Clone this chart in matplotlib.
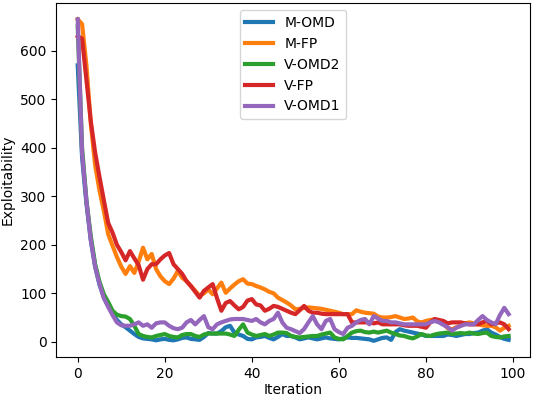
import matplotlib
matplotlib.use("Agg")
import matplotlib.pyplot as plt
import numpy as np

# exploitability per iteration
m_omd = [570, 380, 285, 210, 155, 118, 92, 74, 58, 45, 36, 30, 23, 16, 10, 7, 6, 5, 3, 5,
         6, 4, 3, 5, 8, 9, 6, 5, 4, 10, 18, 17, 17, 22, 30, 33, 19, 15, 12, 6,
         5, 9, 10, 12, 8, 5, 10, 16, 12, 12, 9, 5, 7, 9, 7, 5, 7, 9, 7, 6,
         5, 7, 9, 8, 8, 7, 6, 5, 2, 5, 8, 9, 4, 20, 26, 23, 21, 19, 17, 15,
         12, 12, 12, 12, 12, 15, 14, 12, 14, 16, 16, 18, 19, 23, 26, 19, 15, 10, 6, 4]
m_fp = [665, 655, 570, 450, 365, 312, 270, 222, 198, 175, 155, 140, 156, 142, 165, 194, 170, 181, 150, 135,
        125, 119, 130, 146, 132, 125, 115, 105, 95, 100, 108, 98, 110, 122, 101, 110, 118, 125, 129, 120,
        119, 115, 112, 108, 103, 100, 91, 86, 81, 75, 67, 68, 70, 71, 70, 69, 68, 66, 64, 62,
        60, 57, 57, 57, 65, 62, 60, 59, 58, 52, 50, 50, 51, 53, 50, 47, 48, 50, 42, 40,
        43, 45, 46, 43, 38, 28, 26, 30, 33, 38, 40, 38, 36, 34, 33, 33, 30, 23, 29, 33]
v_omd2 = [650, 400, 292, 218, 160, 124, 98, 82, 64, 56, 53, 52, 47, 33, 16, 12, 10, 9, 12, 14,
          16, 12, 10, 9, 14, 16, 16, 12, 10, 15, 17, 17, 17, 17, 17, 15, 12, 25, 36, 19,
          15, 12, 14, 16, 12, 15, 19, 19, 18, 12, 10, 9, 10, 11, 12, 12, 15, 17, 19, 9,
          6, 5, 12, 19, 22, 23, 20, 19, 21, 19, 21, 23, 19, 16, 13, 12, 9, 7, 11, 16,
          13, 12, 15, 17, 18, 19, 16, 17, 18, 17, 19, 17, 16, 18, 19, 12, 10, 9, 11, 12]
v_fp = [630, 625, 540, 455, 390, 340, 292, 245, 225, 200, 185, 168, 187, 172, 158, 128, 150, 160, 160, 170,
        178, 183, 160, 150, 140, 125, 115, 103, 91, 105, 112, 119, 90, 64, 80, 84, 75, 67, 72, 85,
        88, 77, 75, 64, 68, 74, 72, 68, 64, 60, 57, 65, 74, 64, 60, 60, 58, 57, 57, 57,
        57, 57, 57, 40, 40, 40, 40, 40, 38, 40, 36, 36, 36, 36, 36, 34, 33, 33, 33, 31,
        29, 40, 47, 45, 43, 38, 40, 40, 40, 38, 36, 36, 36, 40, 43, 36, 38, 40, 36, 26]
v_omd1 = [665, 390, 290, 210, 155, 119, 90, 72, 55, 40, 34, 33, 33, 36, 40, 33, 36, 29, 38, 40,
          40, 33, 28, 26, 29, 40, 45, 36, 45, 53, 30, 26, 36, 40, 43, 46, 47, 47, 47, 45,
          43, 47, 40, 36, 43, 47, 60, 40, 29, 26, 22, 18, 26, 40, 53, 36, 26, 43, 47, 26,
          20, 16, 29, 33, 40, 45, 47, 36, 53, 48, 43, 43, 40, 40, 38, 36, 36, 36, 36, 36,
          36, 40, 43, 40, 35, 30, 23, 29, 33, 36, 36, 36, 45, 53, 45, 40, 36, 55, 70, 57]

series = [("M-OMD", m_omd), ("M-FP", m_fp), ("V-OMD2", v_omd2), ("V-FP", v_fp), ("V-OMD1", v_omd1)]
iters = np.arange(len(m_omd))

fig = plt.figure(figsize=(5.35, 3.97), dpi=100)
ax = fig.add_axes([0.105, 0.101, 0.886, 0.891])
for name, vals in series:
    ax.plot(iters, vals, linewidth=3, label=name)

ax.set_xlabel("Iteration", labelpad=2)
ax.set_ylabel("Exploitability")
ax.legend(loc="upper center")
plt.savefig("out.png")
